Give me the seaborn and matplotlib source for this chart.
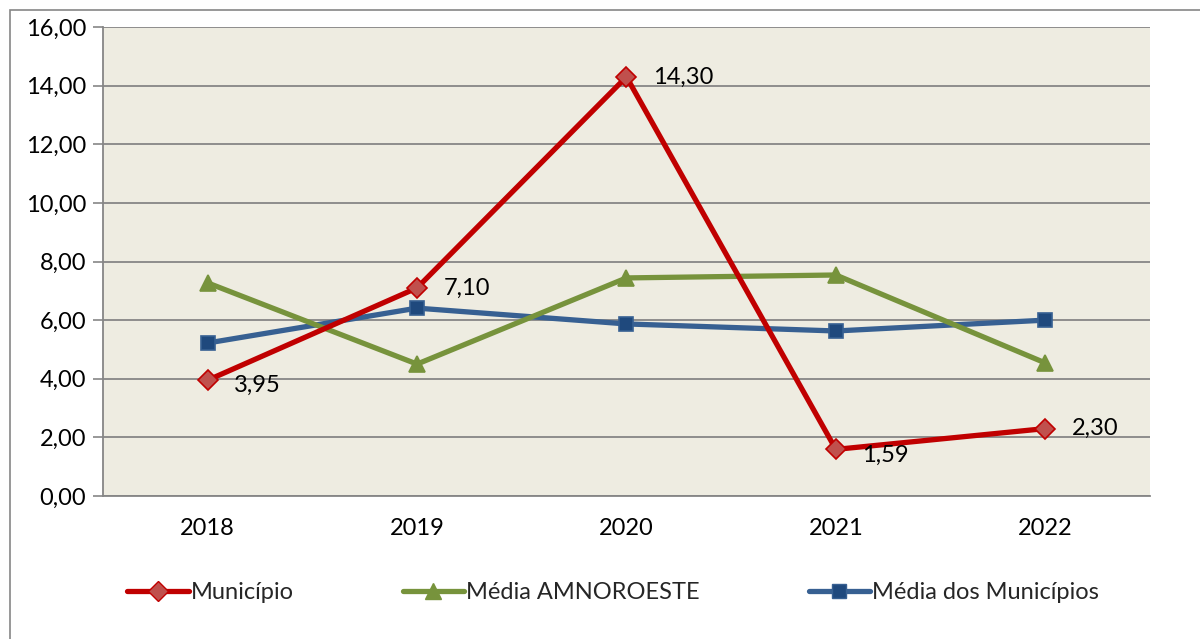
import numpy as np
import pandas as pd
import seaborn as sns
from matplotlib import pyplot as plt
from matplotlib.patches import Rectangle
from matplotlib.lines import Line2D

years = ['2018', '2019', '2020', '2021', '2022']
municipio = [3.95, 7.10, 14.30, 1.59, 2.30]
media_amnoroeste = [7.27, 4.50, 7.44, 7.54, 4.54]
media_municipios = [5.22, 6.41, 5.87, 5.63, 6.00]
series_names = ['Município', 'Média AMNOROESTE', 'Média dos Municípios']

line_colors = ['#C00000', '#77933C', '#376092']
face_colors = ['#C0504D', '#77933C', '#1F497D']
markers = ['D', '^', 's']
msizes = [10, 11, 10]

sns.set_style('white')
plt.rcParams['font.family'] = ['Lato', 'DejaVu Sans']
fs = 17

df = pd.DataFrame({
    'ano': years * 3,
    'valor': municipio + media_amnoroeste + media_municipios,
    'serie': np.repeat(series_names, len(years)),
})

fig = plt.figure(figsize=(12, 6.39), dpi=100)
ax = fig.add_axes([0.0858, 0.2238, 0.8725, 0.7339])
ax.set_facecolor('#EEECE1')

# draw in reverse so Município is on top
for name, lc, fc, mk, ms in list(zip(series_names, line_colors, face_colors, markers, msizes))[::-1]:
    sub = df[df['serie'] == name]
    sns.lineplot(data=sub, x='ano', y='valor', ax=ax, color=lc, linewidth=3.8,
                 marker=mk, markersize=ms, markerfacecolor=fc, markeredgecolor=lc,
                 markeredgewidth=1.2, sort=False, legend=False)

for i, v in enumerate(municipio):
    dy = -4 if i in (0, 3) else 0
    ax.annotate(f'{v:.2f}'.replace('.', ','), (i, v), xytext=(19, dy),
                textcoords='offset points', ha='left', va='center', fontsize=fs,
                color='black')

ax.set_xlim(-0.5, 4.5)
ax.set_ylim(0, 16)
ax.set_yticks(np.arange(0, 17, 2))
ax.set_yticklabels([f'{t:.2f}'.replace('.', ',') for t in np.arange(0, 17, 2)], fontsize=fs)
ax.tick_params(axis='x', labelsize=fs, length=0, pad=16, labelcolor='black')
ax.tick_params(axis='y', length=7, width=1.2, color='#868686', pad=5, left=True,
               labelcolor='black')
ax.set_xlabel('')
ax.set_ylabel('')
ax.grid(axis='y', color='#868686', linewidth=1.3)
ax.set_axisbelow(True)
for s in ['top', 'right']:
    ax.spines[s].set_visible(False)
for s in ['left', 'bottom']:
    ax.spines[s].set_color('#868686')
    ax.spines[s].set_linewidth(1.3)

handles = [Line2D([0], [0], color=lc, linewidth=3.8, marker=mk, markersize=ms,
                  markerfacecolor=fc, markeredgecolor=lc)
           for lc, fc, mk, ms in zip(line_colors, face_colors, markers, msizes)]
fig.legend(handles, series_names, loc='center', bbox_to_anchor=(0.511, 0.072), ncol=3,
           frameon=False, fontsize=fs, handlelength=2.6, handletextpad=0.1,
           columnspacing=4.6)

fig.patches.append(Rectangle((10 / 1200, -0.01), 1.1, 1 - 10 / 639 + 0.01,
                             transform=fig.transFigure, fill=False,
                             edgecolor='#868686', linewidth=1.2))

fig.savefig('out.png', dpi=100)
